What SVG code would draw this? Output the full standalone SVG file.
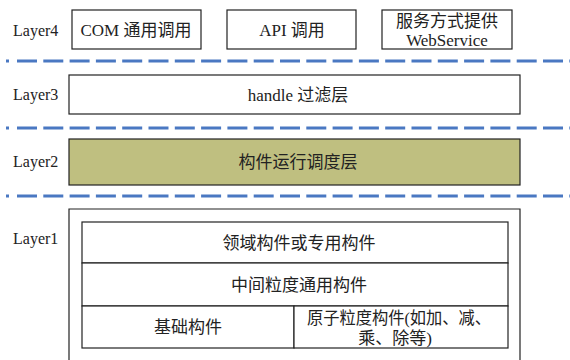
<svg xmlns="http://www.w3.org/2000/svg" width="570" height="360" viewBox="0 0 570 360">
<style>
text{font-family:"Liberation Serif","Noto Sans CJK SC",serif;font-size:17px;fill:#222;}
.lbl{font-size:16px;}
.c{text-anchor:middle;}
.box{fill:#fff;stroke:#222;stroke-width:1.2;}
.sep{stroke:#4a78c2;stroke-width:3.2;fill:none;}
</style>
<rect width="570" height="360" fill="#fff"/>
<g id="connectors">
<line class="sep" x1="6" y1="61" x2="570" y2="61" stroke-dasharray="3 8 20 6.3 20 6.3 20 6.3 20 6.3 20 6.3 20 6.3 20 6.3 20 6.3 20 6.3 20 6.3 20 6.3 20 6.3 20 6.3 20 6.3 20 6.3 20 6.3 20 6.3 20 6.3 20 6.3 20 6.3 20 6.3 20 6.3"/>
<line class="sep" x1="6" y1="128" x2="570" y2="128" stroke-dasharray="3 8 20 6.3 20 6.3 20 6.3 20 6.3 20 6.3 20 6.3 20 6.3 20 6.3 20 6.3 20 6.3 20 6.3 20 6.3 20 6.3 20 6.3 20 6.3 20 6.3 20 6.3 20 6.3 20 6.3 20 6.3 20 6.3 20 6.3"/>
<line class="sep" x1="6" y1="196" x2="570" y2="196" stroke-dasharray="3 8 20 6.3 20 6.3 20 6.3 20 6.3 20 6.3 20 6.3 20 6.3 20 6.3 20 6.3 20 6.3 20 6.3 20 6.3 20 6.3 20 6.3 20 6.3 20 6.3 20 6.3 20 6.3 20 6.3 20 6.3 20 6.3 20 6.3"/>
</g>
<g id="layer4">
<text class="lbl" x="13" y="36">Layer4</text>
<g id="com"><rect class="box" x="72" y="10" width="129" height="39"/><text class="c" x="136" y="36">COM 通用调用</text></g>
<g id="api"><rect class="box" x="227" y="10" width="129" height="39"/><text class="c" x="292" y="36">API 调用</text></g>
<g id="ws"><rect class="box" x="382" y="10" width="130" height="39"/><text class="c" x="447" y="27">服务方式提供</text><text class="c" x="447" y="46">WebService</text></g>
</g>
<g id="layer3">
<text class="lbl" x="13" y="100">Layer3</text>
<rect class="box" x="69" y="75" width="451" height="39"/>
<text class="c" x="298" y="101">handle 过滤层</text>
</g>
<g id="layer2">
<text class="lbl" x="13" y="167">Layer2</text>
<rect class="box" x="69" y="139" width="451" height="46" style="fill:#bfbf80"/>
<text class="c" x="298" y="168">构件运行调度层</text>
</g>
<g id="layer1">
<text class="lbl" x="13" y="244">Layer1</text>
<path d="M69,362 V209 H520 V362" fill="none" stroke="#222" stroke-width="1.2"/>
<g id="domain"><rect class="box" x="82" y="222" width="426" height="41"/><text class="c" x="299" y="249">领域构件或专用构件</text></g>
<g id="mid"><rect class="box" x="82" y="263" width="426" height="43"/><text class="c" x="299" y="291">中间粒度通用构件</text></g>
<g id="base"><rect class="box" x="82" y="306" width="212" height="42"/><text class="c" x="188" y="333">基础构件</text></g>
<g id="atom"><rect class="box" x="294" y="306" width="214" height="42"/><text class="c" x="399" y="324" textLength="184" lengthAdjust="spacingAndGlyphs">原子粒度构件(如加、减、</text><text class="c" x="395" y="344">乘、除等)</text></g>
</g>
</svg>
